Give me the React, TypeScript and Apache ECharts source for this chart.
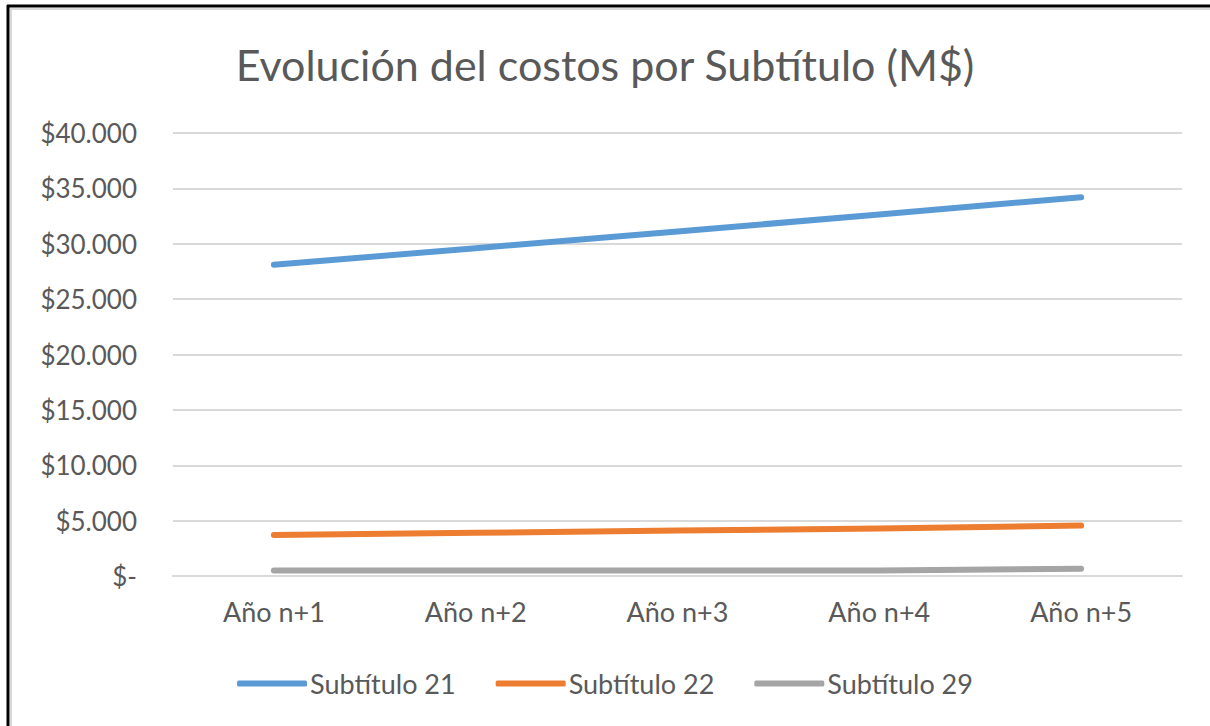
import React, { useEffect, useRef } from "react";
import * as echarts from "echarts";

const categories = ["Año n+1", "Año n+2", "Año n+3", "Año n+4", "Año n+5"];
const subtitulo21 = [28100, 29600, 31100, 32650, 34200];
const subtitulo22 = [3700, 3900, 4100, 4300, 4550];
const subtitulo29 = [500, 500, 500, 500, 650];
const seriesNames = ["Subtítulo 21", "Subtítulo 22", "Subtítulo 29"];
const yTicks = { min: 0, max: 40000, interval: 5000 };

const FONT = "Lato, 'Open Sans', sans-serif";
const TEXT = "#595959";

function fmt(v: number): string {
  if (v === 0) return "$-";
  return "$" + String(v).replace(/\B(?=(\d{3})+(?!\d))/g, ".");
}

export default function App() {
  const ref = useRef<HTMLDivElement>(null);
  useEffect(() => {
    if (!ref.current) return;
    const chart = echarts.init(ref.current, undefined, { renderer: "svg" });
    const mk = (name: string, data: number[], color: string) => ({
      name,
      type: "line",
      data,
      symbol: "none",
      smooth: false,
      lineStyle: { color, width: 6, cap: "round", join: "round" },
      itemStyle: { color },
    });
    chart.setOption({
      animation: false,
      backgroundColor: "#ffffff",
      title: {
        text: "Evolución del costos por Subtítulo (M$)",
        left: "center",
        top: 38,
        textStyle: { fontFamily: FONT, fontSize: 43, fontWeight: "normal", color: TEXT },
      },
      grid: { left: 173, right: 28, top: 133, bottom: 150, containLabel: false },
      xAxis: {
        type: "category",
        data: categories,
        boundaryGap: true,
        axisLine: { show: true, lineStyle: { color: "#d9d9d9", width: 2 } },
        axisTick: { show: false },
        axisLabel: { color: TEXT, fontFamily: FONT, fontSize: 27, margin: 22 },
      },
      yAxis: {
        type: "value",
        min: yTicks.min,
        max: yTicks.max,
        interval: yTicks.interval,
        axisLine: { show: false },
        axisTick: { show: false },
        splitLine: { lineStyle: { color: "#d9d9d9", width: 2 } },
        axisLabel: { color: TEXT, fontFamily: FONT, fontSize: 26, margin: 36, formatter: fmt },
      },
      legend: {
        data: seriesNames,
        bottom: 24,
        left: "center",
        itemWidth: 70,
        itemHeight: 6,
        itemGap: 40,
        icon: "roundRect",
        textStyle: { color: TEXT, fontFamily: FONT, fontSize: 27, padding: [0, 0, 0, -2] },
      },
      series: [
        mk(seriesNames[0], subtitulo21, "#5b9bd5"),
        mk(seriesNames[1], subtitulo22, "#ed7d31"),
        mk(seriesNames[2], subtitulo29, "#a5a5a5"),
      ],
      graphic: [
        { type: "line", shape: { x1: 7, y1: 6, x2: 1210, y2: 6 }, style: { stroke: "#000", lineWidth: 3 } },
        { type: "line", shape: { x1: 10, y1: 9, x2: 1210, y2: 9 }, style: { stroke: "#d9d9d9", lineWidth: 2 } },
        { type: "line", shape: { x1: 8, y1: 5, x2: 8, y2: 726 }, style: { stroke: "#000", lineWidth: 3 } },
        { type: "line", shape: { x1: 11, y1: 8, x2: 11, y2: 726 }, style: { stroke: "#d9d9d9", lineWidth: 2 } },
      ],
    });
    return () => chart.dispose();
  }, []);
  return (
    <div
      ref={ref}
      style={{ position: "absolute", left: 0, top: 0, width: 1210, height: 726 }}
    />
  );
}
